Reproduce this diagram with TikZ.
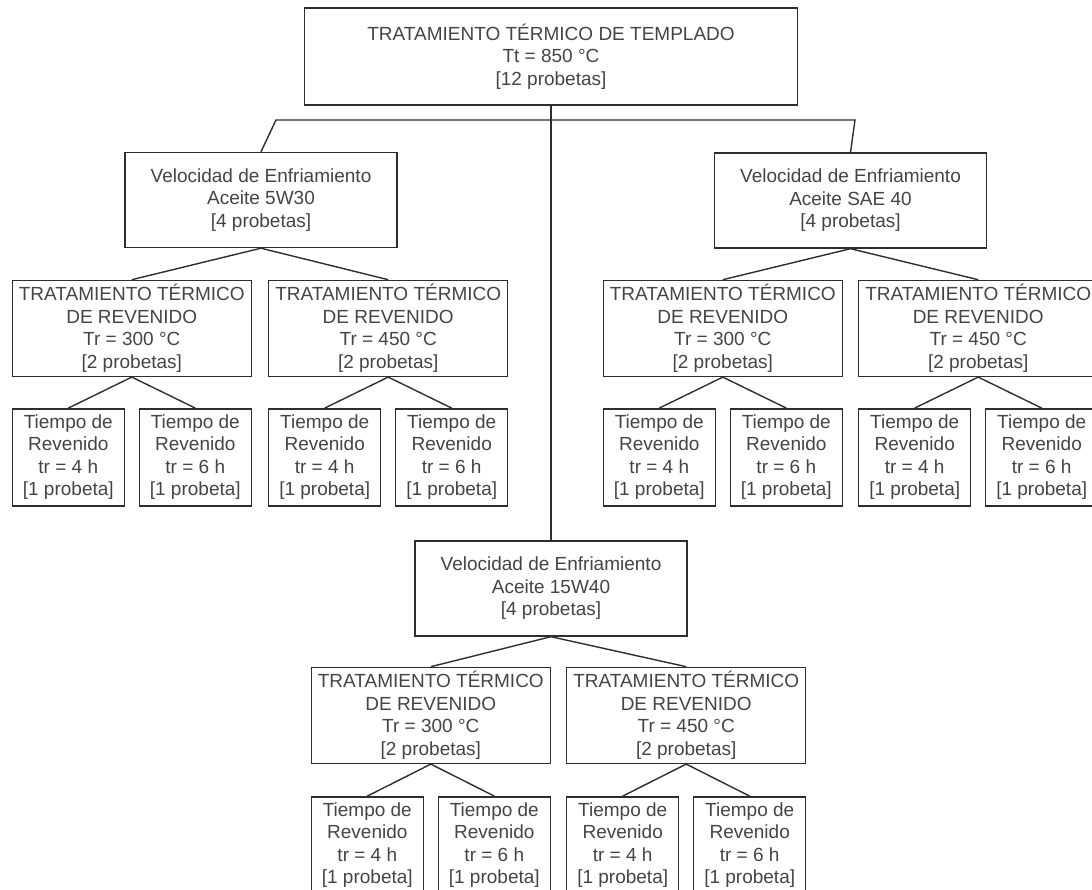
\documentclass[tikz,border=0pt]{standalone}
\usepackage{fontspec}
\setmainfont{Liberation Sans}
\usetikzlibrary{positioning}
\definecolor{linea}{HTML}{2E2E2E}
\definecolor{texto}{HTML}{444444}

\begin{document}
\begin{tikzpicture}[x=1pt,y=-1pt,color=linea,line width=1.4pt,
                    caja/.style={draw,text=texto,align=center,inner sep=0pt,
                                 font=\fontsize{19}{22.5}\selectfont},
                    temple/.style={caja,minimum width=493pt,minimum height=97pt},
                    enfriar/.style={caja,minimum width=272pt,minimum height=95pt},
                    revenido/.style={caja,minimum width=239pt,minimum height=96pt},
                    tiempo/.style={caja,minimum width=112pt,minimum height=97pt}]
                \clip (0,0) rectangle (1092,890);

                \node[temple] (templado) at (551,56.5) {TRATAMIENTO TÉRMICO DE TEMPLADO\\Tt = 850 °C\\{[12 probetas]}};

                \node[enfriar] (v5w30)  at (261,200)    {Velocidad de Enfriamiento\\Aceite 5W30\\{[4 probetas]}};
                \node[enfriar] (vsae40) at (850.5,200.5) {Velocidad de Enfriamiento\\Aceite SAE 40\\{[4 probetas]}};
                \node[enfriar] (v15w40) at (551,588.5)  {Velocidad de Enfriamiento\\Aceite 15W40\\{[4 probetas]}};

                % aceite 5W30
                \node[revenido] (r1a) [below left=31.5pt and 9pt of v5w30.south]  {TRATAMIENTO TÉRMICO\\DE REVENIDO\\Tr = 300 °C\\{[2 probetas]}};
                \node[revenido] (r1b) [below right=31.5pt and 7pt of v5w30.south] {TRATAMIENTO TÉRMICO\\DE REVENIDO\\Tr = 450 °C\\{[2 probetas]}};
                \node[tiempo] (t1a4) [below right=31pt and 0pt of r1a.south west] {Tiempo de\\Revenido\\tr = 4 h\\{[1 probeta]}};
                \node[tiempo] (t1a6) [below left=31pt and 0pt of r1a.south east]  {Tiempo de\\Revenido\\tr = 6 h\\{[1 probeta]}};
                \node[tiempo] (t1b4) [below right=31pt and 0pt of r1b.south west] {Tiempo de\\Revenido\\tr = 4 h\\{[1 probeta]}};
                \node[tiempo] (t1b6) [below left=31pt and 0pt of r1b.south east]  {Tiempo de\\Revenido\\tr = 6 h\\{[1 probeta]}};

                % aceite SAE 40
                \node[revenido] (r2a) [below left=31pt and 7.5pt of vsae40.south]  {TRATAMIENTO TÉRMICO\\DE REVENIDO\\Tr = 300 °C\\{[2 probetas]}};
                \node[revenido] (r2b) [below right=31pt and 7.5pt of vsae40.south] {TRATAMIENTO TÉRMICO\\DE REVENIDO\\Tr = 450 °C\\{[2 probetas]}};
                \node[tiempo] (t2a4) [below right=31pt and 0pt of r2a.south west] {Tiempo de\\Revenido\\tr = 4 h\\{[1 probeta]}};
                \node[tiempo] (t2a6) [below left=31pt and 0pt of r2a.south east]  {Tiempo de\\Revenido\\tr = 6 h\\{[1 probeta]}};
                \node[tiempo] (t2b4) [below right=31pt and 0pt of r2b.south west] {Tiempo de\\Revenido\\tr = 4 h\\{[1 probeta]}};
                \node[tiempo] (t2b6) [below left=31pt and 0pt of r2b.south east]  {Tiempo de\\Revenido\\tr = 6 h\\{[1 probeta]}};

                % aceite 15W40
                \node[revenido] (r3a) [below left=30pt and 0pt of v15w40.south]   {TRATAMIENTO TÉRMICO\\DE REVENIDO\\Tr = 300 °C\\{[2 probetas]}};
                \node[revenido] (r3b) [below right=30pt and 15pt of v15w40.south] {TRATAMIENTO TÉRMICO\\DE REVENIDO\\Tr = 450 °C\\{[2 probetas]}};
                \node[tiempo] (t3a4) [below right=32pt and 0pt of r3a.south west] {Tiempo de\\Revenido\\tr = 4 h\\{[1 probeta]}};
                \node[tiempo] (t3a6) [below left=32pt and 0pt of r3a.south east]  {Tiempo de\\Revenido\\tr = 6 h\\{[1 probeta]}};
                \node[tiempo] (t3b4) [below right=32pt and 0pt of r3b.south west] {Tiempo de\\Revenido\\tr = 4 h\\{[1 probeta]}};
                \node[tiempo] (t3b6) [below left=32pt and 0pt of r3b.south east]  {Tiempo de\\Revenido\\tr = 6 h\\{[1 probeta]}};

                \coordinate (ramaizq) at (276,120);
                \coordinate (ramader) at (855,120);

    \draw (templado.south) |- (ramaizq) -- (v5w30.north);
    \draw (templado.south) |- (ramader) -- (vsae40.north);
    \draw (templado.south) -- (v15w40.north);

    \path
    (v5w30.south) edge (r1a.north)
                  edge (r1b.north)
    (vsae40.south) edge (r2a.north)
                   edge (r2b.north)
    (v15w40.south) edge (r3a.north)
                   edge (r3b.north)

    (r1a.south) edge (t1a4.north) edge (t1a6.north)
    (r1b.south) edge (t1b4.north) edge (t1b6.north)
    (r2a.south) edge (t2a4.north) edge (t2a6.north)
    (r2b.south) edge (t2b4.north) edge (t2b6.north)
    (r3a.south) edge (t3a4.north) edge (t3a6.north)
    (r3b.south) edge (t3b4.north) edge (t3b6.north);
            \end{tikzpicture}
\end{document}
